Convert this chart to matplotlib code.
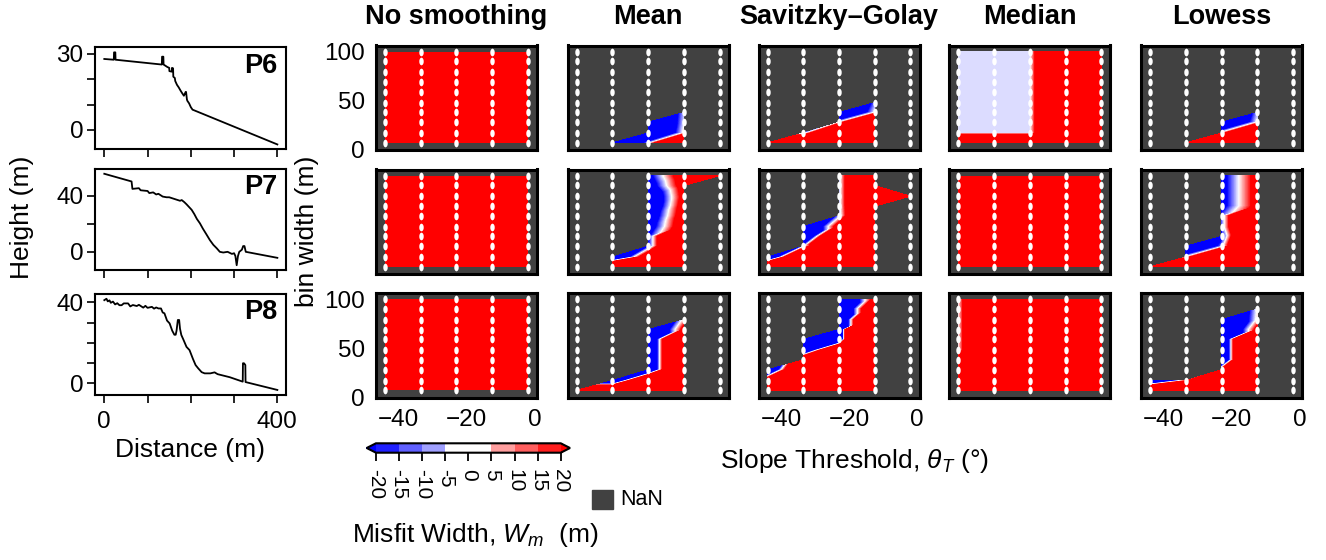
import numpy as np
import matplotlib
matplotlib.use('Agg')
import matplotlib.pyplot as plt
from matplotlib.tri import Triangulation
from matplotlib.path import Path
from matplotlib.transforms import Affine2D
from matplotlib.colors import ListedColormap, BoundaryNorm
from matplotlib.cm import ScalarMappable
from matplotlib.patches import Rectangle

N = np.nan

# ---------------- data ----------------
profile_names = ['P6', 'P7', 'P8']
method_names = ['No smoothing', 'Mean', 'Savitzky–Golay', 'Median', 'Lowess']

p6_dist = [0, 22, 22.5, 25.5, 26, 133, 133.5, 136.5, 137, 146, 150, 150.5, 156, 156.5, 159, 159.5,
           163, 164, 168, 172, 176, 180, 184, 188, 189, 191, 192, 196, 200, 204, 207, 400]
p6_height = [28, 27.7, 30.6, 30.6, 27.7, 25.8, 28.9, 28.9, 25.8, 24.8, 24.5, 23.2, 23, 24.5, 24.3, 21,
             20.5, 19.3, 17.8, 16.8, 15.6, 14.5, 13.5, 15, 15, 12, 11.5, 10.5, 9, 8, 7.8, -5.7]

p7_dist = [0, 63, 65, 80, 84, 100, 104, 113, 120, 125, 135, 144, 150, 160, 170, 175, 179, 185, 190,
           196, 202, 208, 214, 221, 228, 236, 244, 252, 260, 267, 275, 285, 295, 300, 303, 306, 309,
           312, 318, 321, 324, 327, 400]
p7_height = [55.8, 50.3, 45, 45.5, 44, 43.5, 42, 42.5, 41, 41.5, 39.5, 39, 39, 38, 37, 36.5, 37, 35.5,
             34, 32, 30, 27, 23.5, 20.4, 16.5, 12.5, 8.4, 5, 2.5, 0, -0.5, 0, -1.5, -1, -3, -9.6, -3,
             0, 1.5, 4.1, 4.1, 0, -4.3]

p8_dist = [0, 5, 8, 12, 15, 20, 25, 30, 35, 40, 45, 55, 60, 66, 75, 80, 90, 95, 100, 110, 115, 120,
           125, 131, 135, 139, 145, 151, 157, 162, 165, 167, 170, 173, 175, 178, 183, 190, 197, 205,
           211, 217, 225, 232, 245, 255, 258, 262, 290, 320, 320.5, 323, 326, 326.5, 400]
p8_height = [41.1, 41.8, 40.5, 41, 39.8, 40.4, 39, 39.6, 38.6, 38.6, 39.5, 39.5, 38, 38.7, 38.2, 38.8,
             37.4, 38.3, 37.3, 37.8, 36.9, 37.5, 37, 37, 35, 34.6, 31, 29.6, 26, 24, 24, 26, 31.3,
             31.3, 27, 23.9, 21.5, 18, 16.4, 12, 9, 7.4, 5.5, 4.9, 4.9, 5.4, 5.0, 4.5, 3, 0.8, 9.9,
             9.9, 9.0, 0.6, -3.3]

slope_threshold = [-44, -33.5, -23, -12.5, -2]
bin_width = [7, 17, 28, 38, 48, 59, 69, 79, 90, 100]

# misfit width (m); rows from largest bin width (top) to smallest (bottom); NaN = no result
p6_none = [[150, 150, 150, 150, 150]] * 10
p6_mean = [[N, N, N, N, N], [N, N, N, N, N], [N, N, N, N, N], [N, N, N, N, N], [N, N, N, N, N],
           [N, N, N, N, N], [N, N, N, -6, N], [N, N, -100, -3, N], [N, N, -100, 3, N],
           [N, -100, -10, 150, N]]
p6_sg = [[N, N, N, N, N], [N, N, N, N, N], [N, N, N, N, N], [N, N, N, N, N], [N, N, N, N, N],
         [N, N, N, -12, N], [N, N, -100, 0, N], [N, N, 0, 150, N], [N, -15, 150, 150, N],
         [150, 150, 150, 150, N]]
p6_median = [[-3, -3, -3, 150, 150]] * 9 + [[150, 150, 150, 150, 150]]
p6_lowess = [[N, N, N, N, N], [N, N, N, N, N], [N, N, N, N, N], [N, N, N, N, N], [N, N, N, N, N],
             [N, N, N, N, N], [N, N, N, -8, N], [N, N, -100, 0, N], [N, N, 5, 150, N],
             [N, 150, 150, 150, N]]

p7_none = [[150, 150, 150, 150, 150]] * 10
p7_mean = [[N, N, -30, 40, 150], [N, N, -40, 35, N], [N, N, -60, 30, N], [N, N, -60, 35, N],
           [N, N, -50, 40, N], [N, N, -40, 45, N], [N, N, -25, 150, N], [N, N, -25, 150, N],
           [N, -100, 60, 150, N], [N, 150, 150, 150, N]]
p7_sg = [[N, N, -8, 150, N], [N, N, -8, 150, N], [N, N, -8, 150, 150], [N, N, -8, 150, N],
         [N, N, -10, 150, N], [N, -100, 40, 150, N], [N, -100, 150, 150, N], [N, -10, 150, 150, N],
         [-100, 150, 150, 150, N], [150, 150, 150, 150, N]]
p7_median = [[150, 150, 150, 150, 150]] * 10
p7_lowess = [[N, N, -30, 30, N], [N, N, -30, 30, N], [N, N, -30, 30, N], [N, N, -30, 30, N],
             [N, N, -15, 150, N], [N, N, -15, 150, N], [N, N, -30, 150, N], [N, -100, -10, 150, N],
             [N, 0, 150, 150, N], [150, 150, 150, 150, N]]

p8_none = [[150, 150, 150, 150, 150]] * 10
p8_mean = [[N, N, N, N, N], [N, N, N, N, N], [N, N, N, 5, N], [N, N, -100, 30, N],
           [N, N, -100, 200, N], [N, N, -100, 200, N], [N, N, -100, 200, N], [N, N, -100, 200, N],
           [N, -100, 150, 150, N], [150, 150, 150, 150, N]]
p8_sg = [[N, N, -100, 35, N], [N, N, -100, 90, N], [N, N, -100, 190, N], [N, N, -100, 600, N],
         [N, -100, -100, 600, N], [N, -100, 150, 600, N], [N, 100, 150, 600, N],
         [-100, 150, 150, 600, N], [60, 150, 150, 600, N], [150, 150, 150, 600, N]]
p8_median = [[0, 150, 150, 150, 150]] * 6 + [[40, 150, 150, 150, 150]] + [[150, 150, 150, 150, 150]] * 3
p8_lowess = [[N, N, N, N, N], [N, N, N, 0, N], [N, N, -100, 3, N], [N, N, -100, 30, N],
             [N, N, -100, 260, N], [N, N, -100, 260, N], [N, N, -100, 260, N], [N, N, 30, 150, N],
             [-100, 10, 150, 150, N], [150, 150, 150, 150, N]]

misfit = [[p6_none, p6_mean, p6_sg, p6_median, p6_lowess],
          [p7_none, p7_mean, p7_sg, p7_median, p7_lowess],
          [p8_none, p8_mean, p8_sg, p8_median, p8_lowess]]
profiles = [(p6_dist, p6_height), (p7_dist, p7_height), (p8_dist, p8_height)]

cbar_ticks = [-20, -15, -10, -5, 0, 5, 10, 15, 20]
cbar_bounds = [-20, -15, -10, -5, 5, 10, 15, 20]

# ---------------- style ----------------
plt.rcParams['font.family'] = ['Liberation Sans', 'DejaVu Sans']
plt.rcParams['mathtext.fontset'] = 'custom'
plt.rcParams['mathtext.it'] = 'Liberation Sans:italic'
plt.rcParams['mathtext.rm'] = 'Liberation Sans'

W, H = 1326, 560
fig = plt.figure(figsize=(W / 100, H / 100), dpi=100)
NAN_COLOR = '#414141'
TICK_FS = 17.5
LABEL_FS = 19


def ax_px(x0, y0, x1, y1):
    return fig.add_axes([x0 / W, 1 - y1 / H, (x1 - x0) / W, (y1 - y0) / H])


def build_tri(Z, X, Y):
    valid = np.isfinite(Z)
    idx = np.arange(Z.size).reshape(Z.shape)
    tris = []
    for i in range(Z.shape[0] - 1):
        for j in range(Z.shape[1] - 1):
            corners = [(idx[i, j], valid[i, j]), (idx[i, j + 1], valid[i, j + 1]),
                       (idx[i + 1, j + 1], valid[i + 1, j + 1]), (idx[i + 1, j], valid[i + 1, j])]
            ok = [k for k, v in corners if v]
            if len(ok) == 4:
                tris.append([ok[0], ok[1], ok[2]])
                tris.append([ok[0], ok[2], ok[3]])
            elif len(ok) == 3:
                tris.append(ok)
    return Triangulation(X.ravel(), Y.ravel(), np.array(tris))


ell = Path.unit_circle().transformed(Affine2D().scale(0.58, 1.0))
cmap = plt.get_cmap('bwr')
levels = np.linspace(-20, 20, 81)
xs = np.array(slope_threshold, float)
ys = np.array(bin_width, float)
X, Y = np.meshgrid(xs, ys)

col_left = [376, 567.7, 758.5, 949.3, 1141]
col_w = 161
row_top = [45.5, 169.5, 293]
row_h = 104.5

for r in range(3):
    for c in range(5):
        ax = ax_px(col_left[c], row_top[r], col_left[c] + col_w, row_top[r] + row_h)
        ax.set_facecolor(NAN_COLOR)
        Z = np.array(misfit[r][c], float)[::-1]
        tri = build_tri(Z, X, Y)
        zf = np.where(np.isfinite(Z), Z, 0.0).ravel()
        ax.tricontourf(tri, zf, levels=levels, cmap=cmap, extend='both', zorder=1)
        ax.plot(X.ravel(), Y.ravel(), ls='none', marker=ell, ms=5.5, mfc='white', mec='none', zorder=3)
        ax.set_xlim(-46.65, 0.65)
        ax.set_ylim(-0.3, 106.3)
        ax.set_xticks([-40, -20, 0])
        ax.set_yticks([0, 50, 100])
        ax.tick_params(length=0, labelsize=TICK_FS, pad=8)
        if not (r == 2 and c in (0, 2, 4)):
            ax.set_xticklabels([])
        if not (c == 0 and r in (0, 2)):
            ax.set_yticklabels([])
        for s in ax.spines.values():
            s.set_linewidth(2.2)
            s.set_color('black')
        if r == 0:
            fig.text((col_left[c] + col_w / 2) / W, 1 - 17 / H, method_names[c], ha='center',
                     va='center', fontsize=19.5, fontweight='bold')

# ---- profiles ----
prof_rows = [(47.3, 149), (169.3, 270), (294.3, 395)]
prof_ylim = [(-7.5, 32.6), (-13, 59), (-5.8, 44)]
prof_yticks = [[0, 10, 20, 30], [0, 20, 40], [0, 10, 20, 30, 40]]
prof_ylabels = [['0', '', '', '30'], ['0', '', '40'], ['0', '', '', '', '40']]
for r in range(3):
    ax = ax_px(95, prof_rows[r][0], 286, prof_rows[r][1])
    d, h = profiles[r]
    ax.plot(d, h, color='black', lw=1.3)
    ax.set_xlim(-21.5, 420)
    ax.set_ylim(*prof_ylim[r])
    ax.set_xticks([0, 100, 200, 300, 400])
    if r == 2:
        ax.set_xticklabels(['0', '', '', '', '400'])
    else:
        ax.set_xticklabels([])
    ax.set_yticks(prof_yticks[r])
    ax.set_yticklabels(prof_ylabels[r])
    ax.tick_params(direction='out', length=5.5, width=1.2, labelsize=TICK_FS, pad=3)
    ax.tick_params(axis='x', pad=6)
    for s in ax.spines.values():
        s.set_linewidth(1.5)
    ax.text(0.955, 0.82, profile_names[r], transform=ax.transAxes, ha='right', va='center',
            fontsize=19.5, fontweight='bold')

fig.text(22 / W, 1 - 217 / H, 'Height (m)', rotation=90, ha='center', va='center', fontsize=LABEL_FS)
fig.text(190.5 / W, 1 - 450 / H, 'Distance (m)', ha='center', va='center', fontsize=LABEL_FS)
fig.text(307 / W, 1 - 231 / H, 'bin width (m)', rotation=90, ha='center', va='center', fontsize=LABEL_FS)
fig.text(720 / W, 1 - 461 / H, r'Slope Threshold, $\theta_T$ (°)', ha='left', va='center',
         fontsize=LABEL_FS)

# ---- colorbar ----
mids = [(a + b) / 2 for a, b in zip(cbar_bounds[:-1], cbar_bounds[1:])]
ccols = [cmap((m + 20) / 40) for m in mids]
ccmap = ListedColormap(ccols)
ccmap.set_under(cmap(0.0))
ccmap.set_over(cmap(1.0))
cnorm = BoundaryNorm(cbar_bounds, ccmap.N)
cax = ax_px(366.7, 443.3, 570, 452.7)
cb = fig.colorbar(ScalarMappable(norm=cnorm, cmap=ccmap), cax=cax, orientation='horizontal',
                  extend='both', ticks=cbar_ticks, extendfrac=0.05, spacing='proportional')
cb.set_ticklabels([str(t) for t in cbar_ticks])
cb.outline.set_linewidth(1.5)
cax.tick_params(axis='x', direction='out', length=6, width=1.3, labelsize=15, labelrotation=270, pad=6)

fig.patches.append(Rectangle((592 / W, 1 - 509 / H), 20.7 / W, 19 / H, transform=fig.transFigure,
                             color=NAN_COLOR))
fig.text(620 / W, 1 - 499.5 / H, 'NaN', ha='left', va='center', fontsize=15.5)
fig.text(351.7 / W, 1 - 535 / H, r'Misfit Width, $W_m$  (m)', ha='left', va='center', fontsize=LABEL_FS)

fig.savefig('out.png', dpi=100)
